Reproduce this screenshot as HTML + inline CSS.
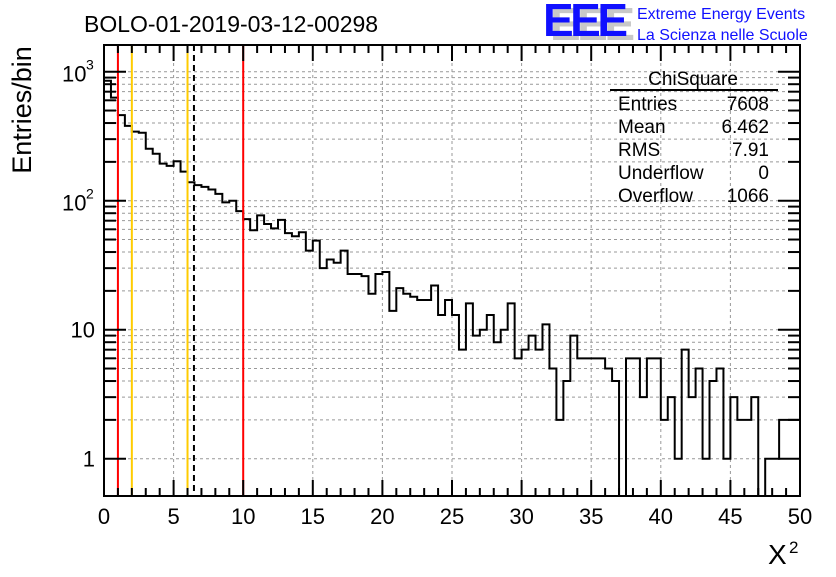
<!DOCTYPE html>
<html><head><meta charset="utf-8"><style>
body{margin:0;background:#fff;}
svg text{font-family:"Liberation Sans",sans-serif;}
</style></head><body>
<svg id="chart" width="836" height="572" viewBox="0 0 836 572" xmlns="http://www.w3.org/2000/svg">
<rect width="836" height="572" fill="#fff"/>
<g id="grid"></g>
<g id="marks"></g>
<g id="axes"></g>
<text x="84" y="32" font-size="23">BOLO-01-2019-03-12-00298</text>
<g>
<text x="550" y="40" font-size="46" font-weight="bold" fill="#c8c8c8" textLength="85">EEE</text>
<text x="543" y="36" font-size="46" font-weight="bold" fill="#1010ff" textLength="85">EEE</text>
<text x="637" y="19" font-size="16" fill="#1010ff">Extreme Energy Events</text>
<text x="637" y="40" font-size="16" fill="#1010ff">La Scienza nelle Scuole</text>
</g>
<g font-size="19">
<text x="693" y="85" text-anchor="middle">ChiSquare</text>
<line x1="610" y1="90" x2="778" y2="90" stroke="#000" stroke-width="2"/>
<text x="618" y="110">Entries</text><text x="769" y="110" text-anchor="end">7608</text>
<text x="618" y="133">Mean</text><text x="769" y="133" text-anchor="end">6.462</text>
<text x="618" y="156">RMS</text><text x="769" y="156" text-anchor="end">7.91</text>
<text x="618" y="179">Underflow</text><text x="769" y="179" text-anchor="end">0</text>
<text x="618" y="202">Overflow</text><text x="769" y="202" text-anchor="end">1066</text>
</g>
<text transform="translate(31,110) rotate(-90)" font-size="27" text-anchor="middle">Entries/bin</text>
<text x="768" y="564" font-size="28" font-family="Liberation Serif,serif">X</text>
<text x="789" y="553" font-size="17">2</text>
</svg>
<script>
const counts=[850,630,461,380,343,336,253,231,194,186,202,168,139,132,128,122,113,97,100,83,
72,59,77,66,61,71,56,53,57,41,49,30,35,33,41,27,27,26,19,27,
28,14,21,19,18,17,17,22,13,17,13,7,16,9,10,13,8,10,16,6,
7,9,7,11,5,2,4,9,6,6,6,6,5,4,0,6,6,3,6,6,
2,3,1,7,3,5,1,4,5,1,3,2,2,3,0,1,1,2,2,2];
const binLow=0, binWidth=0.5;
const xTicks=[0,5,10,15,20,25,30,35,40,45,50];
const yDecades=[1,10,100,1000];
const cutLinesRed=[1,10];
const cutLinesYellow=[2,6];
const meanValue=6.462;

const X0=104,X1=800,Y0=496,YT=45;
const xs=v=>X0+(v-0)/50*(X1-X0);
const ys=v=>71.7+(3-Math.log10(v))*129;
const yMin=Math.pow(10,3-(Y0-71.7)/129);
const NS="http://www.w3.org/2000/svg";
function mk(tag,attrs,parent){const e=document.createElementNS(NS,tag);for(const k in attrs)e.setAttribute(k,attrs[k]);parent.appendChild(e);return e;}
const grid=document.getElementById('grid'),marks=document.getElementById('marks'),axes=document.getElementById('axes');
xTicks.forEach(t=>{if(t>0&&t<50){const l=mk('line',{x1:xs(t),x2:xs(t),y1:YT,y2:Y0,stroke:'#999','stroke-dasharray':'3,3','stroke-width':1},grid);

}});
yDecades.forEach(d=>{for(let m=1;m<10;m++){const v=d*m;if(v<yMin||ys(v)<YT)continue;
const l=mk('line',{x1:X0,x2:X1,y1:ys(v),y2:ys(v),stroke:'#999','stroke-dasharray':'3,3','stroke-width':1},grid);


const major=(m===1);const len=major?22:12;
const tl=mk('line',{x1:X0,x2:X0+len,y1:ys(v),y2:ys(v),stroke:'#000','stroke-width':2},axes);


const tr=mk('line',{x1:X1,x2:X1-len,y1:ys(v),y2:ys(v),stroke:'#000','stroke-width':2},axes);

}});
let d='';
counts.forEach((c,i)=>{const xa=xs(binLow+i*binWidth),xb=xs(binLow+(i+1)*binWidth);const y=c>0?Math.min(ys(c),Y0):Y0;
d+=(i===0?'M'+xa+','+y:'L'+xa+','+y)+'L'+xb+','+y;});
const h=mk('path',{d:d,fill:'none',stroke:'#000','stroke-width':2},marks);


cutLinesRed.forEach(v=>{const l=mk('line',{x1:xs(v),x2:xs(v),y1:YT,y2:Y0,stroke:'#f00','stroke-width':2},marks);

});
cutLinesYellow.forEach(v=>{const l=mk('line',{x1:xs(v),x2:xs(v),y1:YT,y2:Y0,stroke:'#fc0','stroke-width':2},marks);

});
const ml=mk('line',{x1:xs(meanValue),x2:xs(meanValue),y1:YT,y2:Y0,stroke:'#000','stroke-width':2,'stroke-dasharray':'6,4'},marks);


const fr=mk('rect',{x:X0,y:YT,width:X1-X0,height:Y0-YT,fill:'none',stroke:'#000','stroke-width':2},axes);


for(let t=0;t<=50;t++){const major=t%5===0;const len=major?16:8;
const a=mk('line',{x1:xs(t),x2:xs(t),y1:Y0,y2:Y0-len,stroke:'#000','stroke-width':2},axes);


const b=mk('line',{x1:xs(t),x2:xs(t),y1:YT,y2:YT+len,stroke:'#000','stroke-width':2},axes);

}
xTicks.forEach(t=>{const tx=mk('text',{x:xs(t),y:524,'font-size':22,'text-anchor':'middle'},axes);tx.textContent=String(t);

});
const yl1=mk('text',{x:95,y:ys(1)+8,'font-size':22,'text-anchor':'end'},axes);yl1.textContent='1';


const yl10=mk('text',{x:95,y:ys(10)+8,'font-size':22,'text-anchor':'end'},axes);yl10.textContent='10';


[[100,'2'],[1000,'3']].forEach(([v,e])=>{const t=mk('text',{x:62,y:ys(v)+10,'font-size':22},axes);t.textContent='10';


const s=mk('text',{x:86,y:ys(v)-2,'font-size':14},axes);s.textContent=e;

});
</script>
</body></html>
